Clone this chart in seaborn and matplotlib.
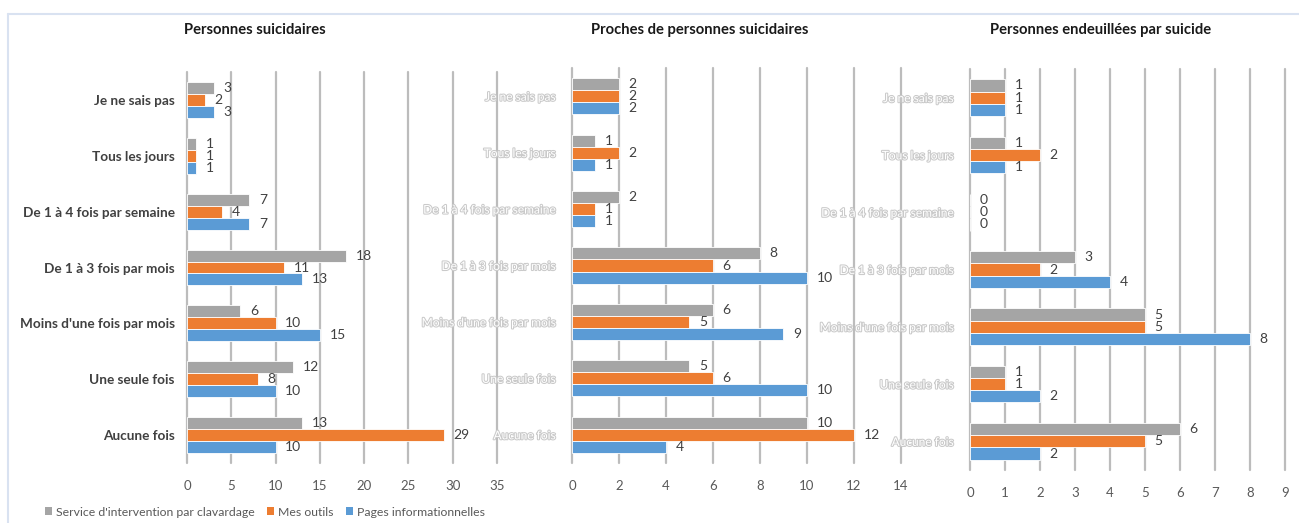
import matplotlib
matplotlib.use("Agg")
import matplotlib.pyplot as plt
import matplotlib.patheffects as pe
from matplotlib.lines import Line2D
from matplotlib.patches import Patch
import seaborn as sns
import pandas as pd

sns.set_theme(style="white")
plt.rcParams["font.family"] = ["Lato", "DejaVu Sans"]

categories = [
    "Je ne sais pas",
    "Tous les jours",
    "De 1 à 4 fois par semaine",
    "De 1 à 3 fois par mois",
    "Moins d'une fois par mois",
    "Une seule fois",
    "Aucune fois",
]
series_names = [
    "Service d'intervention par clavardage",
    "Mes outils",
    "Pages informationnelles",
]
colors = ["#a5a5a5", "#ed7d31", "#5b9bd5"]

titles = [
    "Personnes suicidaires",
    "Proches de personnes suicidaires",
    "Personnes endeuillées par suicide",
]

# Personnes suicidaires
suicidaires_clavardage = [3, 1, 7, 18, 6, 12, 13]
suicidaires_outils = [2, 1, 4, 11, 10, 8, 29]
suicidaires_pages = [3, 1, 7, 13, 15, 10, 10]

# Proches de personnes suicidaires
proches_clavardage = [2, 1, 2, 8, 6, 5, 10]
proches_outils = [2, 2, 1, 6, 5, 6, 12]
proches_pages = [2, 1, 1, 10, 9, 10, 4]

# Personnes endeuillées par suicide
endeuilles_clavardage = [1, 1, 0, 3, 5, 1, 6]
endeuilles_outils = [1, 2, 0, 2, 5, 1, 5]
endeuilles_pages = [1, 1, 0, 4, 8, 2, 2]

x_max = [35, 14, 9]
x_step = [5, 2, 1]

panels = [
    (suicidaires_clavardage, suicidaires_outils, suicidaires_pages),
    (proches_clavardage, proches_outils, proches_pages),
    (endeuilles_clavardage, endeuilles_outils, endeuilles_pages),
]

# axes rectangles in figure fractions (left, bottom, width, height)
rects = [
    (0.1440, 0.1147, 0.2386, 0.7476),
    (0.4403, 0.1147, 0.2533, 0.7553),
    (0.7467, 0.1013, 0.2425, 0.7667),
]
title_x = [255 / 1299, 700 / 1299, 1101 / 1299]

fig = plt.figure(figsize=(12.99, 5.23), dpi=100)
fig.patch.set_facecolor("white")

grid_color = "#bcbcbc"
tick_color = "#595959"
value_color = "#404040"

for i, (vals, rect) in enumerate(zip(panels, rects)):
    ax = fig.add_axes(rect)
    rows = []
    for name, v in zip(series_names, vals):
        for cat, val in zip(categories, v):
            rows.append({"cat": cat, "value": val, "series": name})
    df = pd.DataFrame(rows)
    sns.barplot(
        data=df, y="cat", x="value", hue="series", orient="h",
        order=categories, hue_order=series_names,
        palette=colors, saturation=1, width=0.64, ax=ax,
        legend=False, edgecolor="white", linewidth=0.6,
    )
    for cont in ax.containers:
        ax.bar_label(cont, fmt="%g", padding=7, fontsize=10,
                     color=value_color)

    ax.set_xlim(0, x_max[i])
    ax.set_ylim(6.5, -0.5)
    ax.set_xticks(range(0, x_max[i] + 1, x_step[i]))
    ax.set_xlabel("")
    ax.set_ylabel("")
    ax.set_facecolor("none")
    for s in ax.spines.values():
        s.set_visible(False)
    ax.set_axisbelow(True)
    ax.grid(axis="x", color=grid_color, linewidth=1.6)
    ax.grid(axis="y", visible=False)
    for gl in ax.get_xgridlines():
        gl.set_clip_on(False)
    ax.tick_params(axis="x", length=0, pad=12, labelsize=9.5,
                   labelcolor=tick_color)
    if i == 0:
        ax.tick_params(axis="y", length=0, pad=9)
        for lab in ax.get_yticklabels():
            lab.set_fontweight("bold")
            lab.set_fontsize(9.8)
            lab.set_color("#404040")
    else:
        ax.tick_params(axis="y", length=0, pad=12)
        for lab in ax.get_yticklabels():
            lab.set_fontsize(8.6)
            lab.set_color("white")
            lab.set_path_effects([
                pe.withStroke(linewidth=1.5, foreground="#cacaca")
            ])

    fig.text(title_x[i], 1 - 30 / 523, titles[i], ha="center",
             va="center", fontsize=10.6, fontweight="bold", color="#1a1a1a")

# legend along the bottom
handles = [Patch(facecolor=c, edgecolor="none") for c in colors]
fig.legend(
    handles, series_names, loc="center left",
    bbox_to_anchor=(40 / 1299, 1 - 512 / 523), ncol=3, frameon=False,
    fontsize=8.8, labelcolor=tick_color, handlelength=0.6,
    handleheight=0.6, handletextpad=0.3, columnspacing=1.0,
    borderaxespad=0,
)

# light outer frame of the chart area
frame_color = "#d9e2f1"
fig.add_artist(Line2D([8 / 1299, 8 / 1299], [0, 1 - 14 / 523],
                      color=frame_color, linewidth=1.5,
                      transform=fig.transFigure))
fig.add_artist(Line2D([8 / 1299, 1], [1 - 14 / 523, 1 - 14 / 523],
                      color=frame_color, linewidth=1.5,
                      transform=fig.transFigure))

fig.savefig("out.png", dpi=100, facecolor="white")
